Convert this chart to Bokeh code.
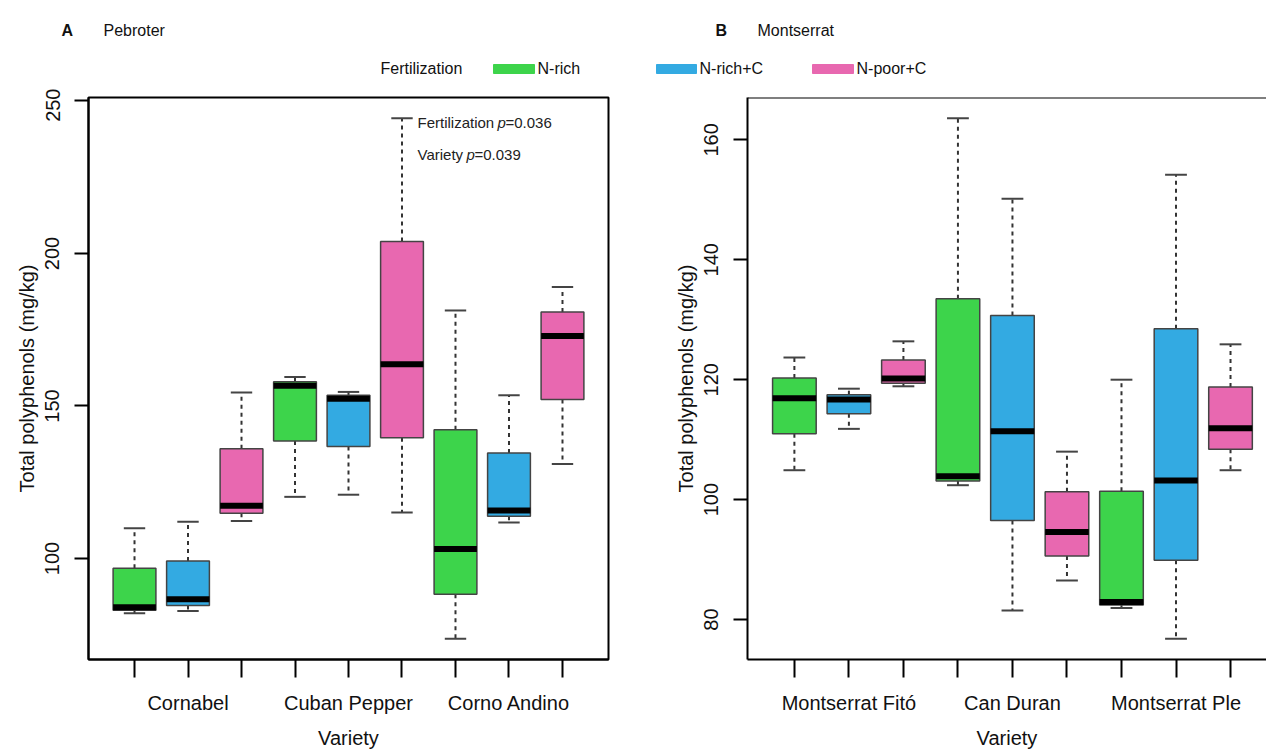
import math
from bokeh.plotting import figure
from bokeh.models import Range1d, FixedTicker, Label, Span
from bokeh.layouts import column, row
from bokeh.embed import file_html
from bokeh.resources import INLINE

# ---------------- data ----------------
treatments = ["N-rich", "N-rich+C", "N-poor+C"]
colors = ["#3DD44B", "#33AAE2", "#E868B0"]

# Panel A: Pebroter (order: variety x treatment)
varieties_a = ["Cornabel", "Cuban Pepper", "Corno Andino"]
a_low = [82.0, 82.8, 112.3, 120.2, 120.9, 115.1, 73.7, 111.8, 131.0]
a_q1 = [83.0, 84.6, 114.8, 138.5, 136.7, 139.6, 88.3, 113.8, 152.1]
a_med = [84.0, 86.6, 117.3, 156.6, 152.4, 163.7, 103.1, 115.7, 172.9]
a_q3 = [96.8, 99.2, 136.0, 157.9, 153.5, 203.9, 142.2, 134.6, 180.8]
a_high = [109.9, 112.0, 154.4, 159.5, 154.6, 244.3, 181.3, 153.5, 189.0]
a_yticks = [100, 150, 200, 250]

# Panel B: Montserrat
varieties_b = ["Montserrat Fitó", "Can Duran", "Montserrat Ple"]
b_low = [104.9, 111.8, 118.9, 102.4, 81.5, 86.5, 81.9, 76.8, 104.9]
b_q1 = [111.0, 114.3, 119.4, 103.1, 96.5, 90.6, 82.4, 89.9, 108.4]
b_med = [116.9, 116.7, 120.2, 103.9, 111.4, 94.6, 82.9, 103.2, 111.9]
b_q3 = [120.3, 117.5, 123.3, 133.5, 130.7, 101.3, 101.4, 128.5, 118.8]
b_high = [123.7, 118.5, 126.4, 163.6, 150.2, 108.0, 120.0, 154.2, 125.9]
b_yticks = [80, 100, 120, 140, 160]

FONT = "Liberation Sans"


def make_panel(varieties, low, q1, med, q3, high, yticks, width, height,
               border_left, border_right, border_bottom, x_end=None):
    n = len(low)
    pos = [i + 1 for i in range(n)]
    fills = [colors[i % len(treatments)] for i in range(n)]
    lo, hi = min(low), max(high)
    pad = 0.04 * (hi - lo)
    x0 = 0.5 - 0.04 * n
    x1 = n + 0.5 + 0.04 * n if x_end is None else x_end
    p = figure(width=width, height=height, output_backend="svg",
               toolbar_location=None,
               x_range=Range1d(x0, x1), y_range=Range1d(lo - pad, hi + pad),
               min_border_left=border_left, min_border_right=border_right,
               min_border_top=9, min_border_bottom=border_bottom)
    p.xgrid.visible = False
    p.ygrid.visible = False
    p.background_fill_color = "white"
    p.border_fill_color = "white"

    # whiskers (dashed)
    p.segment(x0=pos, y0=q3, x1=pos, y1=high, line_color="#333333",
              line_width=2, line_dash="4 4")
    p.segment(x0=pos, y0=q1, x1=pos, y1=low, line_color="#333333",
              line_width=2, line_dash="4 4")
    # caps
    cl = [x - 0.2 for x in pos]
    cr = [x + 0.2 for x in pos]
    p.segment(x0=cl, y0=high, x1=cr, y1=high, line_color="#444444", line_width=2)
    p.segment(x0=cl, y0=low, x1=cr, y1=low, line_color="#444444", line_width=2)
    # boxes
    p.vbar(x=pos, width=0.8, top=q3, bottom=q1, fill_color=fills,
           line_color="#444444", line_width=1.5)
    # medians
    ml = [x - 0.4 for x in pos]
    mr = [x + 0.4 for x in pos]
    p.segment(x0=ml, y0=med, x1=mr, y1=med, line_color="black", line_width=6)

    # x axis
    overrides = {x: "" for x in pos}
    for g, v in enumerate(varieties):
        overrides[3 * g + 2] = v
    xa = p.xaxis[0]
    xa.ticker = FixedTicker(ticks=pos)
    xa.major_label_overrides = overrides
    xa.axis_label = "Variety"
    xa.major_tick_out = 18
    xa.major_tick_in = 0
    xa.minor_tick_line_color = None
    xa.major_label_standoff = 14
    xa.axis_label_standoff = 10
    xa.major_label_text_font = FONT
    xa.major_label_text_font_size = "20px"
    xa.axis_label_text_font = FONT
    xa.axis_label_text_font_size = "20px"
    xa.axis_label_text_font_style = "normal"
    xa.major_label_text_color = "#111111"
    xa.axis_label_text_color = "#111111"

    # y axis
    ya = p.yaxis[0]
    ya.ticker = FixedTicker(ticks=yticks)
    ya.axis_label = "Total polyphenols (mg/kg)"
    ya.major_label_orientation = "parallel"
    ya.major_tick_out = 14
    ya.major_tick_in = 0
    ya.minor_tick_line_color = None
    ya.major_label_standoff = 15
    ya.axis_label_standoff = 5
    ya.major_label_text_font = FONT
    ya.major_label_text_font_size = "20px"
    ya.axis_label_text_font = FONT
    ya.axis_label_text_font_size = "20px"
    ya.axis_label_text_font_style = "normal"
    ya.major_label_text_color = "#111111"
    ya.axis_label_text_color = "#111111"

    for ax in (xa, ya):
        ax.axis_line_color = "black"
        ax.axis_line_width = 2
        ax.major_tick_line_color = "black"
        ax.major_tick_line_width = 2
    return p


H = 88
left = make_panel(varieties_a, a_low, a_q1, a_med, a_q3, a_high, a_yticks,
                  width=640, height=751 - H, border_left=88, border_right=32,
                  border_bottom=91)
left.outline_line_color = "black"
left.outline_line_width = 2
left.outline_line_alpha = 1.0

# statistics annotation in panel A
for yv, words, pval, off in [(243.0, "Fertilization", "=0.036", 80),
                              (232.5, "Variety", "=0.039", 49)]:
    left.add_layout(Label(x=6.29, y=yv, text=words, text_font=FONT,
                          text_font_size="15px", text_baseline="middle",
                          text_color="#222222"))
    left.add_layout(Label(x=6.29, y=yv, x_offset=off, text="p", text_font=FONT,
                          text_font_size="15px", text_font_style="italic",
                          text_baseline="middle", text_color="#222222"))
    left.add_layout(Label(x=6.29, y=yv, x_offset=off + 8, text=pval,
                          text_font=FONT, text_font_size="15px",
                          text_baseline="middle", text_color="#222222"))

right = make_panel(varieties_b, b_low, b_q1, b_med, b_q3, b_high, b_yticks,
                   width=626, height=751 - H, border_left=107, border_right=0,
                   border_bottom=89, x_end=9.66)
right.outline_line_color = None
right.add_layout(Span(location=right.y_range.end, dimension="width",
                      line_color="black", line_width=2))

# ---------------- header (panel titles + legend) ----------------
head = figure(width=1266, height=H, output_backend="svg", toolbar_location=None,
              x_range=Range1d(0, 1266), y_range=Range1d(H, 0),
              x_axis_location=None, y_axis_location=None, min_border=0)
head.outline_line_color = None
head.xgrid.visible = False
head.ygrid.visible = False

for x, t, style in [(61, "A", "bold"), (103, "Pebroter", "normal"),
                    (715, "B", "bold"), (757, "Montserrat", "normal")]:
    head.add_layout(Label(x=x, y=30, text=t, text_font=FONT,
                          text_font_size="16px", text_font_style=style,
                          text_baseline="middle", text_color="#111111"))

head.add_layout(Label(x=380, y=68, text="Fertilization", text_font=FONT,
                      text_font_size="16px", text_baseline="middle",
                      text_color="#111111"))
sw_left = [493, 656, 812]
sw_right = [534, 696, 853]
head.quad(left=sw_left, right=sw_right, top=[64, 64, 64], bottom=[73, 73, 73],
          fill_color=colors, line_color=colors, line_width=1)
for xr, t in zip(sw_right, treatments):
    head.add_layout(Label(x=xr + 3, y=68, text=t, text_font=FONT,
                          text_font_size="16px", text_baseline="middle",
                          text_color="#111111"))

layout = column(head, row(left, right, spacing=0), spacing=0)
open("out.html", "w").write(file_html(layout, INLINE))
